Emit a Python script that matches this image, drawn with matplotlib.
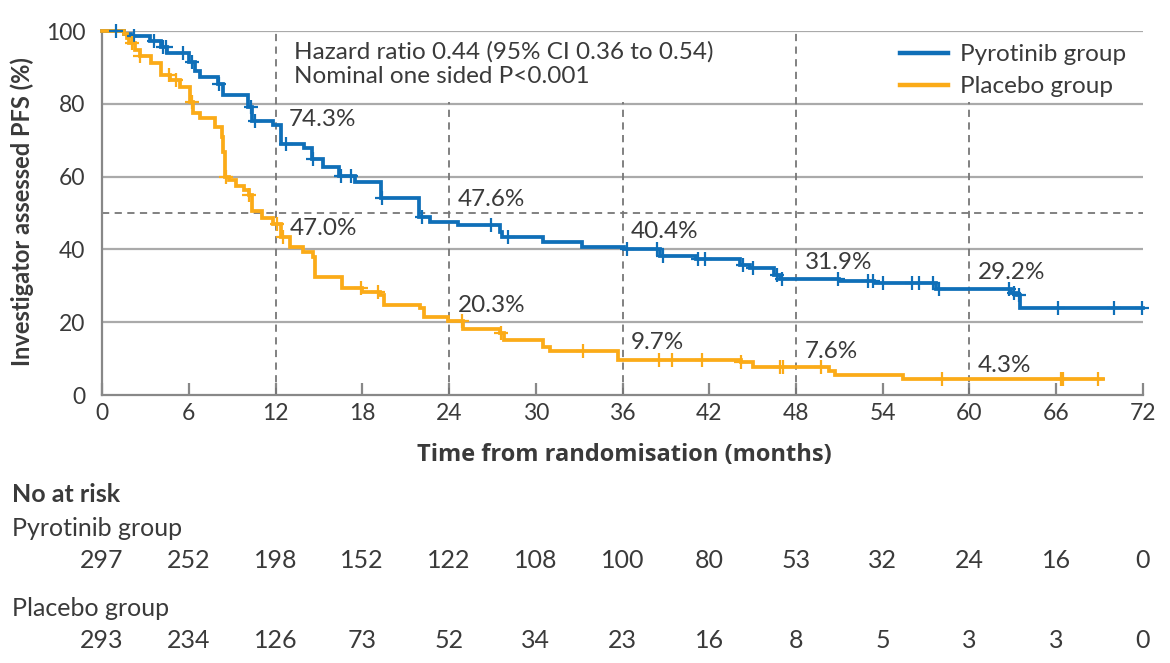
import numpy as np
import matplotlib
matplotlib.use("Agg")
import matplotlib.pyplot as plt
from matplotlib.patches import Rectangle

plt.rcParams['font.family'] = ['Lato', 'DejaVu Sans']

# step curves (months, % progression free)
pyro_t = [0, 1.5, 2.0, 3.3, 4.1, 4.5, 6.0, 6.4, 6.8, 8.0, 8.4, 10.1, 10.4, 11.8, 12.4,
          14.0, 14.5, 15.3, 16.4, 17.5, 19.3, 21.9, 22.7, 24.6, 27.5, 27.7, 30.5, 33.2,
          36.1, 38.6, 41.1, 44.1, 44.8, 46.5, 46.9, 51.0, 53.4, 57.7, 62.9, 63.3, 63.5, 72.0]
pyro_s = [100, 99.2, 98.6, 97.3, 95.5, 94.0, 91.5, 89.0, 87.5, 85.5, 82.3, 79.0, 75.2, 74.3, 69.0,
          67.8, 64.8, 62.7, 60.2, 58.6, 54.0, 49.0, 47.6, 46.7, 44.9, 43.3, 42.0, 40.7,
          40.0, 38.2, 37.3, 35.7, 34.8, 33.0, 31.9, 31.4, 30.7, 29.2, 28.1, 27.5, 23.8, 23.8]
plac_t = [0, 1.5, 1.7, 1.9, 2.3, 2.6, 3.4, 4.1, 4.7, 5.4, 6.1, 6.3, 6.8, 7.8, 8.3, 8.4, 8.5,
          8.8, 9.3, 9.8, 10.2, 10.4, 11.1, 11.8, 12.4, 13.0, 13.9, 14.6, 14.7, 16.6, 18.0,
          19.2, 19.5, 22.0, 22.3, 23.9, 25.0, 27.5, 27.8, 30.5, 31.0, 35.7, 44.2, 45.0,
          50.3, 50.7, 55.4, 69.2]
plac_s = [100, 99.3, 98.0, 96.6, 94.8, 93.2, 91.1, 88.0, 86.5, 84.5, 80.6, 77.4, 76.0, 73.7, 71.0, 66.8, 60.0,
          59.1, 57.5, 56.3, 55.0, 50.5, 48.5, 47.0, 43.5, 40.6, 39.2, 38.0, 32.4, 29.3, 28.4,
          27.5, 24.7, 23.8, 21.5, 20.3, 18.0, 16.9, 15.1, 13.3, 12.1, 9.7, 9.2, 7.6,
          6.7, 5.5, 4.3, 4.3]

# censoring times
pyro_cens = [1.0, 2.2, 3.6, 4.2, 4.4, 5.6, 6.2, 8.1, 10.3, 10.6, 12.7, 14.6, 16.5, 17.2, 19.4,
             22.1, 26.9, 28.1, 36.3, 38.4, 38.8, 41.2, 41.7, 44.3, 45.0, 46.7, 47.0, 50.9,
             53.0, 53.3, 54.0, 56.0, 56.5, 57.5, 57.9, 62.7, 63.1, 63.4, 66.1, 70.0, 71.9]
plac_cens = [2.1, 2.6, 4.6, 5.1, 6.2, 8.6, 10.2, 12.1, 12.5, 17.9, 19.1, 24.9, 27.6, 33.3,
             38.5, 39.4, 41.5, 44.2, 46.9, 47.1, 49.7, 58.1, 66.3, 66.5, 68.9]

landmarks = [12, 24, 36, 48, 60]
pyro_pct = ['74.3%', '47.6%', '40.4%', '31.9%', '29.2%']
plac_pct = ['47.0%', '20.3%', '9.7%', '7.6%', '4.3%']
pyro_lab_y = [75.8, 53.6, 44.9, 36.5, 33.6]
plac_lab_y = [45.8, 24.5, 14.4, 11.9, 8.2]

risk_times = list(range(0, 73, 6))
pyro_risk = [297, 252, 198, 152, 122, 108, 100, 80, 53, 32, 24, 16, 0]
plac_risk = [293, 234, 126, 73, 52, 34, 23, 16, 8, 5, 3, 3, 0]

blue = '#0f6fb8'
orange = '#fbab18'
txt = '#3a3a3a'
grid = '#aaaaaa'
fs = 17.5

fig = plt.figure(figsize=(11.7, 6.63), dpi=100)
ax = fig.add_axes([102/1170, 1-395/663, (1143-102)/1170, (395-31)/663])

def step_at(t, s, c):
    idx = np.searchsorted(t, c, side='right') - 1
    return np.array(s)[idx]

for t, s, cens, col, name in [(pyro_t, pyro_s, pyro_cens, blue, 'Pyrotinib group'),
                              (plac_t, plac_s, plac_cens, orange, 'Placebo group')]:
    ax.plot(t, s, drawstyle='steps-post', color=col, lw=2.7, label=name, zorder=4,
            clip_on=False, solid_joinstyle='miter')
    ax.plot(cens, step_at(t, s, cens), ls='none', marker='+', ms=10, mew=1.6,
            color=col, zorder=5, clip_on=False)

for yv in [20, 40, 60, 80, 100]:
    ax.axhline(yv, color=grid, lw=1.6, zorder=1)
ax.axhline(50, color='#777777', lw=1.3, ls=(0, (4, 3)), zorder=2)
for xv in landmarks:
    ax.axvline(xv, color='#777777', lw=1.3, ls=(0, (4, 3)), zorder=2)

# white panels behind the hazard ratio text and the legend, between the 80 and 100 gridlines
ax.add_patch(Rectangle((12.6, 80.5), 31.0, 19.0, facecolor='white', edgecolor='none',
                       zorder=2.5))
ax.add_patch(Rectangle((54.2, 80.5), 17.8, 19.0, facecolor='white', edgecolor='none',
                       zorder=2.5))
ax.text(13.3, 97.2, 'Hazard ratio 0.44 (95% CI 0.36 to 0.54)\nNominal one sided P<0.001',
        fontsize=fs, color=txt, va='top', ha='left', linespacing=1.2, zorder=3)

for xv, a, b, ya, yb in zip(landmarks, pyro_pct, plac_pct, pyro_lab_y, plac_lab_y):
    off = 0.95 if xv == 12 else 0.6
    ax.text(xv + off, ya, a, fontsize=fs, color=txt, va='center', ha='left')
    ax.text(xv + off, yb, b, fontsize=fs, color=txt, va='center', ha='left')

ax.set_xlim(0, 72)
ax.set_ylim(0, 100)
ax.set_xticks(risk_times)
ax.set_yticks([0, 20, 40, 60, 80, 100])
ax.tick_params(axis='x', direction='in', length=9, width=1.6, color='#888888',
               labelsize=16.5, labelcolor=txt, pad=6)
ax.tick_params(axis='y', length=0, labelsize=16.5, labelcolor=txt, pad=12)
for side in ['top', 'right']:
    ax.spines[side].set_visible(False)
for side in ['left', 'bottom']:
    ax.spines[side].set_color('#888888')
    ax.spines[side].set_linewidth(1.6)

leg = ax.legend(loc='upper right', bbox_to_anchor=(0.997, 1.0), frameon=False,
                fontsize=fs, handlelength=2.0, handletextpad=0.5, labelspacing=0.45,
                borderaxespad=0.15)
leg.set_zorder(6)
for line in leg.get_lines():
    line.set_linewidth(3.2)
for tx in leg.get_texts():
    tx.set_color(txt)

fig.text(22/1170, 1-212/663, 'Investigator assessed PFS (%)', rotation=90, fontsize=17,
         fontweight='bold', color=txt, ha='center', va='center')
fig.text(624/1170, 1-455/663, 'Time from randomisation (months)', fontsize=17,
         fontweight='bold', color=txt, ha='center', va='center',
         family=['Open Sans', 'DejaVu Sans'])

fig.text(12/1170, 1-495/663, 'No at risk', fontsize=18, fontweight='bold', color=txt,
         ha='left', va='center')
fig.text(12/1170, 1-528/663, 'Pyrotinib group', fontsize=18, color=txt, ha='left', va='center')
fig.text(12/1170, 1-608/663, 'Placebo group', fontsize=18, color=txt, ha='left', va='center')
trans = ax.get_xaxis_transform()
for xv, p, q in zip(risk_times, pyro_risk, plac_risk):
    ax.text(xv, (395-560)/364, str(p), transform=trans, fontsize=18, color=txt,
            ha='center', va='center', clip_on=False)
    ax.text(xv, (395-640)/364, str(q), transform=trans, fontsize=18, color=txt,
            ha='center', va='center', clip_on=False)

fig.savefig('out.png', dpi=100)
